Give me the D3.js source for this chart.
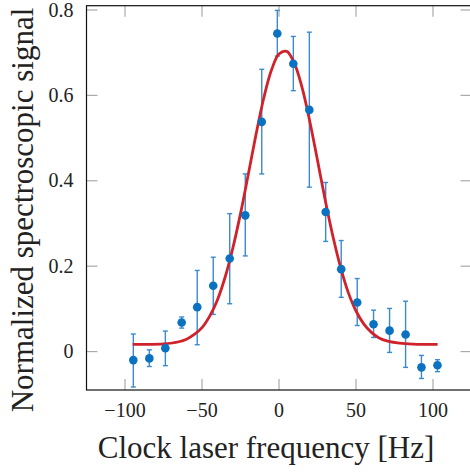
<!DOCTYPE html>
<html>
<head>
<meta charset="utf-8">
<script src="https://cdn.jsdelivr.net/npm/d3@7"></script>
<style>
  body { margin: 0; background: #fff; }
  text { font-family: "Liberation Serif", serif; fill: #222; }
</style>
</head>
<body>
<script>
// Measured points (frequency in Hz, signal, error bar low/high)
var freq = [-94.6, -84.2, -73.8, -63.2, -53.1, -42.7, -32.0, -21.9, -11.2, -1.1,
            9.3, 19.7, 30.3, 40.4, 50.8, 61.4, 71.8, 82.2, 92.5, 102.9];
var signal = [-0.020, -0.016, 0.008, 0.068, 0.104, 0.154, 0.218, 0.319, 0.538, 0.745,
              0.674, 0.566, 0.327, 0.193, 0.115, 0.064, 0.049, 0.040, -0.037, -0.032];
var errLow = [-0.083, -0.035, -0.033, 0.055, 0.016, 0.087, 0.112, 0.224, 0.416, 0.692,
              0.611, 0.385, 0.258, 0.127, 0.061, 0.033, -0.002, -0.037, -0.063, -0.047];
var errHigh = [0.041, 0.004, 0.048, 0.081, 0.190, 0.221, 0.323, 0.416, 0.661, 0.799,
               0.738, 0.748, 0.396, 0.260, 0.171, 0.097, 0.101, 0.118, -0.009, -0.019];

// Fitted curve
var fitFreq = [-95, -85, -75, -65, -60, -55, -50, -45, -40, -35, -30, -25, -20, -15, -10, -5,
               0, 5, 10, 15, 20, 25, 30, 35, 40, 45, 50, 55, 60, 65, 70, 80, 90, 103];
var fitSignal = [0.017, 0.017, 0.018, 0.023, 0.029, 0.040, 0.056, 0.083, 0.121, 0.174, 0.242,
                 0.323, 0.414, 0.507, 0.592, 0.658, 0.697, 0.703, 0.675, 0.618, 0.539, 0.448,
                 0.355, 0.270, 0.197, 0.138, 0.095, 0.065, 0.045, 0.032, 0.025, 0.019, 0.017, 0.017];

var xTicks = [-100, -50, 0, 50, 100];
var yTicks = [0, 0.2, 0.4, 0.6, 0.8];

var svgWidth = 470;
var svgHeight = 475;
var margin = { top: 5.7, left: 86.5 };
var chartWidth = 385;
var chartHeight = 384.3;

var svg = d3.select("body").append("svg")
  .attr("width", svgWidth)
  .attr("height", svgHeight);

var chartGroup = svg.append("g")
  .attr("transform", `translate(${margin.left}, ${margin.top})`);

var xScale = d3.scaleLinear().domain([-125, 125]).range([0, chartWidth]);
var yScale = d3.scaleLinear().domain([-0.09, 0.81]).range([chartHeight, 0]);

// tick marks on all four sides, pointing inwards
var tickLen = 11;
var tickColor = "#aaa";
xTicks.forEach(function(t) {
  chartGroup.append("line")
    .attr("x1", xScale(t)).attr("x2", xScale(t))
    .attr("y1", chartHeight).attr("y2", chartHeight - tickLen)
    .attr("stroke", tickColor).attr("stroke-width", 1.2);
  chartGroup.append("line")
    .attr("x1", xScale(t)).attr("x2", xScale(t))
    .attr("y1", 0).attr("y2", tickLen)
    .attr("stroke", tickColor).attr("stroke-width", 1.2);
  chartGroup.append("text")
    .attr("x", xScale(t)).attr("y", chartHeight + 27)
    .attr("text-anchor", "middle")
    .style("font-size", "20px")
    .text(d3.format("")(t).replace("-", "\u2212"));
});
yTicks.forEach(function(t) {
  chartGroup.append("line")
    .attr("x1", 0).attr("x2", tickLen)
    .attr("y1", yScale(t)).attr("y2", yScale(t))
    .attr("stroke", tickColor).attr("stroke-width", 1.2);
  chartGroup.append("line")
    .attr("x1", chartWidth).attr("x2", chartWidth - tickLen)
    .attr("y1", yScale(t)).attr("y2", yScale(t))
    .attr("stroke", tickColor).attr("stroke-width", 1.2);
  chartGroup.append("text")
    .attr("x", -13).attr("y", yScale(t))
    .attr("dy", "0.33em")
    .attr("text-anchor", "end")
    .style("font-size", "20px")
    .text(t === 0 ? "0" : d3.format(".1f")(t));
});

// frame
chartGroup.append("rect")
  .attr("x", 0).attr("y", 0)
  .attr("width", chartWidth).attr("height", chartHeight)
  .attr("fill", "none").attr("stroke", "#111").attr("stroke-width", 1.2);

// error bars
var errGroup = chartGroup.append("g")
  .attr("stroke", "#3b8ad0").attr("stroke-width", 1.4);
freq.forEach(function(f, i) {
  var x = xScale(f);
  errGroup.append("line")
    .attr("x1", x).attr("x2", x)
    .attr("y1", yScale(errLow[i])).attr("y2", yScale(errHigh[i]));
  [errLow[i], errHigh[i]].forEach(function(v) {
    errGroup.append("line")
      .attr("x1", x - 2.5).attr("x2", x + 2.5)
      .attr("y1", yScale(v)).attr("y2", yScale(v));
  });
});

// fit curve
var fitData = fitFreq.map(function(f, i) { return [f, fitSignal[i]]; });
var fitLine = d3.line()
  .x(d => xScale(d[0]))
  .y(d => yScale(d[1]))
  .curve(d3.curveCatmullRom);
chartGroup.append("path")
  .datum(fitData)
  .attr("d", fitLine)
  .attr("fill", "none")
  .attr("stroke", "#d0222b")
  .attr("stroke-width", 2.8);

// points
chartGroup.selectAll("circle")
  .data(freq)
  .enter()
  .append("circle")
  .attr("cx", d => xScale(d))
  .attr("cy", (d, i) => yScale(signal[i]))
  .attr("r", 4.3)
  .attr("fill", "#0a72c0");

// axis titles
svg.append("text")
  .attr("x", 266).attr("y", 458)
  .attr("text-anchor", "middle")
  .style("font-size", "31px")
  .text("Clock laser frequency [Hz]");

svg.append("text")
  .attr("transform", "translate(33, 210) rotate(-90)")
  .attr("text-anchor", "middle")
  .style("font-size", "31px")
  .text("Normalized spectroscopic signal");
</script>
</body>
</html>
